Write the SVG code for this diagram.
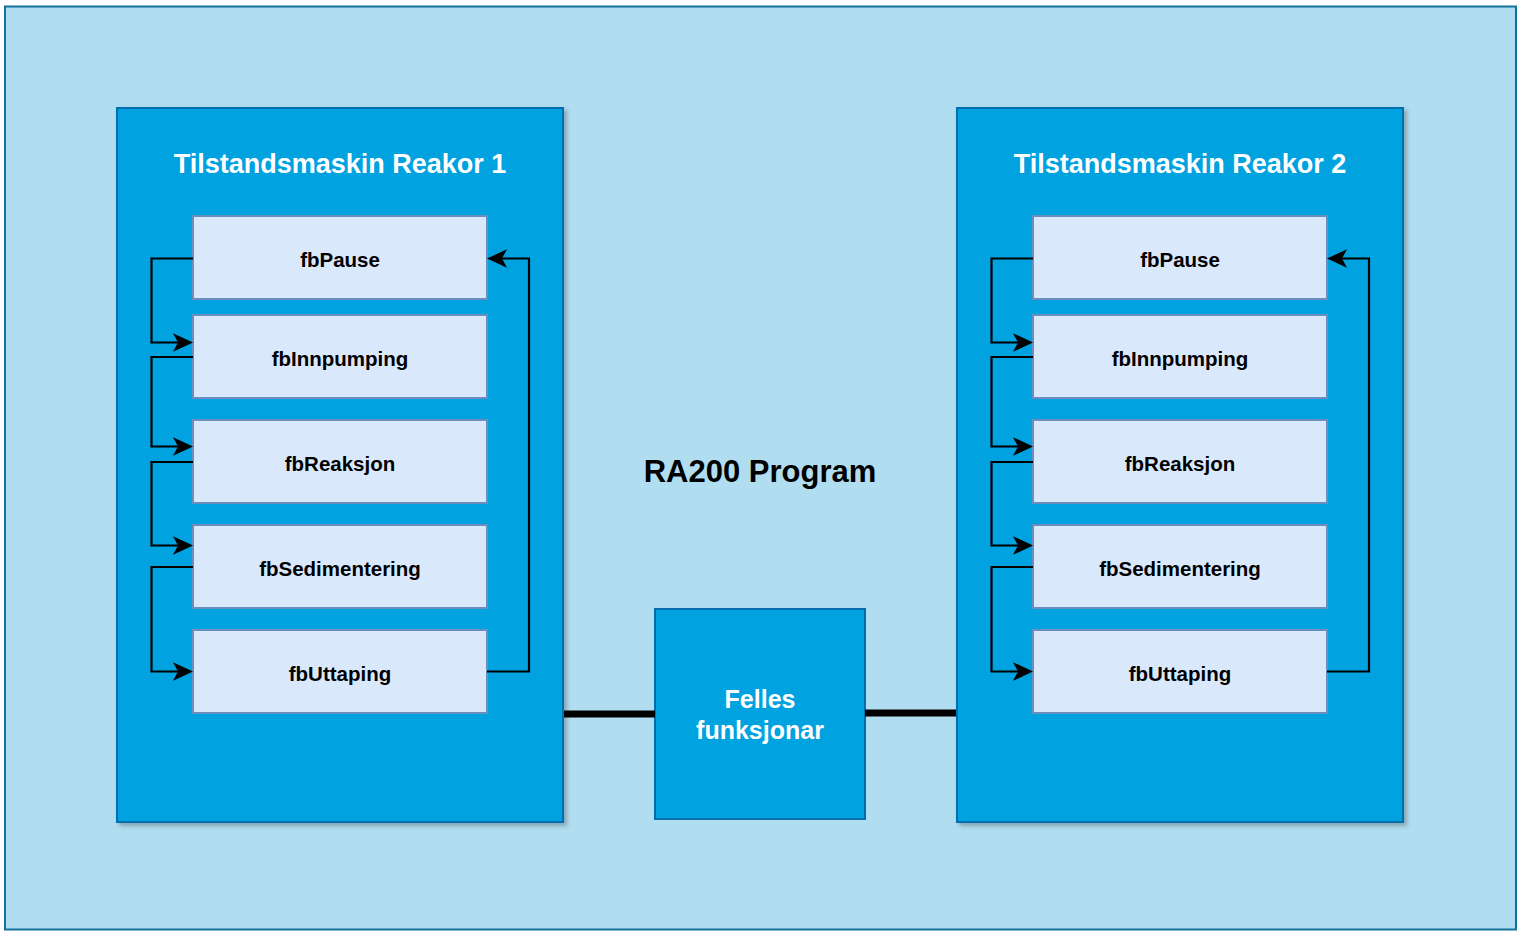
<svg xmlns="http://www.w3.org/2000/svg" width="1523" height="937" viewBox="0 0 1523 937">
<style>
.frame{fill:#B1DDF0;stroke:#10739E;stroke-width:2}
.cont{fill:#01A2E0;stroke:#006EAF;stroke-width:2}
.box{fill:#DAE8FC;stroke:#6C8EBF;stroke-width:2}
.t{font-family:"Liberation Sans",Arial,sans-serif;font-weight:bold;text-anchor:middle}
.lbl{font-size:20.5px;fill:#000}
.title{font-size:27px;fill:#fff}
.wire{fill:none;stroke:#000;stroke-width:2.2}
.thick{fill:none;stroke:#000;stroke-width:7}
</style>
<defs>
<marker id="arr" viewBox="0 0 20 20" refX="5" refY="10" markerWidth="20" markerHeight="20" markerUnits="userSpaceOnUse" orient="auto">
<path d="M20,10 L0,0.7 L5,10 L0,19.3 Z" fill="#000"/>
</marker>
<filter id="sh" x="-5%" y="-5%" width="115%" height="115%">
<feDropShadow dx="3" dy="3" stdDeviation="2" flood-color="#000" flood-opacity="0.25"/>
</filter>
</defs>
<rect class="frame" x="5" y="6.5" width="1511" height="923"/>
<text class="t" x="760" y="482" font-size="31" fill="#000">RA200 Program</text>

<g id="reaktor1">
<rect class="cont" x="117" y="108" width="446" height="714" filter="url(#sh)"/>
<text class="t title" x="340" y="173">Tilstandsmaskin Reakor 1</text>
</g>
<g id="reaktor2">
<rect class="cont" x="957" y="108" width="446" height="714" filter="url(#sh)"/>
<text class="t title" x="1180" y="173">Tilstandsmaskin Reakor 2</text>
</g>

<g id="r1-fbPause"><rect class="box" x="193" y="216" width="294" height="83"/><text class="t lbl" x="340" y="267">fbPause</text></g>
<g id="r1-fbInnpumping"><rect class="box" x="193" y="315" width="294" height="83"/><text class="t lbl" x="340" y="366">fbInnpumping</text></g>
<g id="r1-fbReaksjon"><rect class="box" x="193" y="420" width="294" height="83"/><text class="t lbl" x="340" y="471">fbReaksjon</text></g>
<g id="r1-fbSedimentering"><rect class="box" x="193" y="525" width="294" height="83"/><text class="t lbl" x="340" y="576">fbSedimentering</text></g>
<g id="r1-fbUttaping"><rect class="box" x="193" y="630" width="294" height="83"/><text class="t lbl" x="340" y="681">fbUttaping</text></g>

<g id="r2-fbPause"><rect class="box" x="1033" y="216" width="294" height="83"/><text class="t lbl" x="1180" y="267">fbPause</text></g>
<g id="r2-fbInnpumping"><rect class="box" x="1033" y="315" width="294" height="83"/><text class="t lbl" x="1180" y="366">fbInnpumping</text></g>
<g id="r2-fbReaksjon"><rect class="box" x="1033" y="420" width="294" height="83"/><text class="t lbl" x="1180" y="471">fbReaksjon</text></g>
<g id="r2-fbSedimentering"><rect class="box" x="1033" y="525" width="294" height="83"/><text class="t lbl" x="1180" y="576">fbSedimentering</text></g>
<g id="r2-fbUttaping"><rect class="box" x="1033" y="630" width="294" height="83"/><text class="t lbl" x="1180" y="681">fbUttaping</text></g>

<g id="felles">
<rect class="cont" x="655" y="609" width="210" height="210"/>
<text class="t" x="760" y="708" font-size="25" fill="#fff">Felles</text>
<text class="t" x="760" y="739" font-size="25" fill="#fff">funksjonar</text>
</g>

<g id="connectors">
<path class="wire" d="M193,258.5 H151.5 V342.5 H178" marker-end="url(#arr)"/>
<path class="wire" d="M193,357 H151.5 V446.5 H178" marker-end="url(#arr)"/>
<path class="wire" d="M193,462 H151.5 V545.5 H178" marker-end="url(#arr)"/>
<path class="wire" d="M193,567 H151.5 V671.5 H178" marker-end="url(#arr)"/>
<path class="wire" d="M487,671.5 H529 V258.5 H502" marker-end="url(#arr)"/>

<path class="wire" d="M1033,258.5 H991.5 V342.5 H1018" marker-end="url(#arr)"/>
<path class="wire" d="M1033,357 H991.5 V446.5 H1018" marker-end="url(#arr)"/>
<path class="wire" d="M1033,462 H991.5 V545.5 H1018" marker-end="url(#arr)"/>
<path class="wire" d="M1033,567 H991.5 V671.5 H1018" marker-end="url(#arr)"/>
<path class="wire" d="M1327,671.5 H1369 V258.5 H1342" marker-end="url(#arr)"/>

<path class="thick" d="M564,714 H655"/>
<path class="thick" d="M865,713 H956"/>
</g>
</svg>
